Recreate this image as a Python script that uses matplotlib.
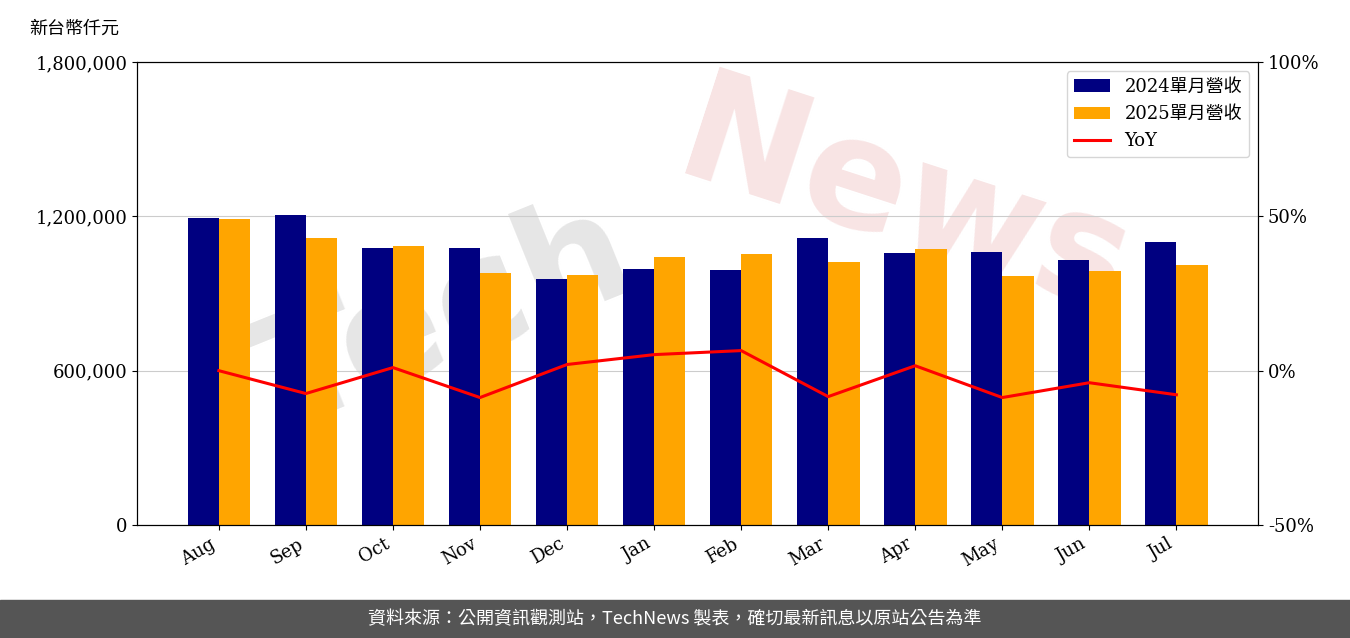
import matplotlib.pyplot as plt
import numpy as np

plt.rcParams['font.family'] = ['DejaVu Serif', 'Noto Sans CJK TC']

months = ["Aug", "Sep", "Oct", "Nov", "Dec", "Jan", "Feb", "Mar", "Apr", "May", "Jun", "Jul"]
rev_2024 = [1193000, 1205000, 1077000, 1077000, 956000, 995000, 991000, 1116000, 1057000, 1061000, 1030000, 1100000]
rev_2025 = [1190000, 1116000, 1085000, 980000, 972000, 1042000, 1054000, 1022000, 1073000, 968000, 987000, 1011000]
yoy = [0.0, -7.4, 1.0, -8.7, 2.0, 5.2, 6.5, -8.4, 1.6, -8.7, -3.9, -7.8]

fig = plt.figure(figsize=(13.5, 6.38), dpi=100)
ax = fig.add_axes([0.1015, 0.177, 0.8305, 0.726])
ax.patch.set_alpha(0)
x = np.arange(len(months))
w = 0.36
b1 = ax.bar(x - w / 2, rev_2024, w, color="#000080", label="2024單月營收")
b2 = ax.bar(x + w / 2, rev_2025, w, color="#FFA500", label="2025單月營收")
ax.set_ylim(0, 1800000)
ax.set_yticks([0, 600000, 1200000, 1800000])
ax.set_yticklabels(["0", "600,000", "1,200,000", "1,800,000"], fontsize=13)
ax.yaxis.grid(True, color="#cccccc")
ax.set_axisbelow(True)
ax.set_xlim(-0.94, 11.94)
ax.set_xticks(x)
ax.set_xticklabels(months, rotation=30, ha="right", fontsize=13)

ax2 = ax.twinx()
l, = ax2.plot(x, yoy, color="red", lw=2.2, label="YoY")
ax2.set_ylim(-50, 100)
ax2.set_yticks([-50, 0, 50, 100])
ax2.set_yticklabels(["-50%", "0%", "50%", "100%"], fontsize=13)

leg = ax2.legend(handles=[b1, b2, l], loc="upper right", fontsize=13)
fig.text(0.022, 0.955, "新台幣仟元", fontsize=13, va="center")

# faint watermark behind the axes
fig.text(0.33, 0.5, "Tech", fontsize=110, color="#e6e6e6", rotation=22,
         ha="center", va="center", fontweight="bold", family="DejaVu Sans", zorder=-5)
fig.text(0.67, 0.68, "News", fontsize=110, color="#f8e4e4", rotation=-18,
         ha="center", va="center", fontweight="bold", family="DejaVu Sans", zorder=-5)

fig.patches.append(plt.Rectangle((0, 0), 1, 0.06, transform=fig.transFigure,
                                 color="#555555", zorder=0))
fig.text(0.5, 0.03, "資料來源：公開資訊觀測站，TechNews 製表，確切最新訊息以原站公告為準",
         color="white", fontsize=13, ha="center", va="center",
         family=["Noto Sans CJK TC", "DejaVu Sans"])

fig.savefig("out.png")
